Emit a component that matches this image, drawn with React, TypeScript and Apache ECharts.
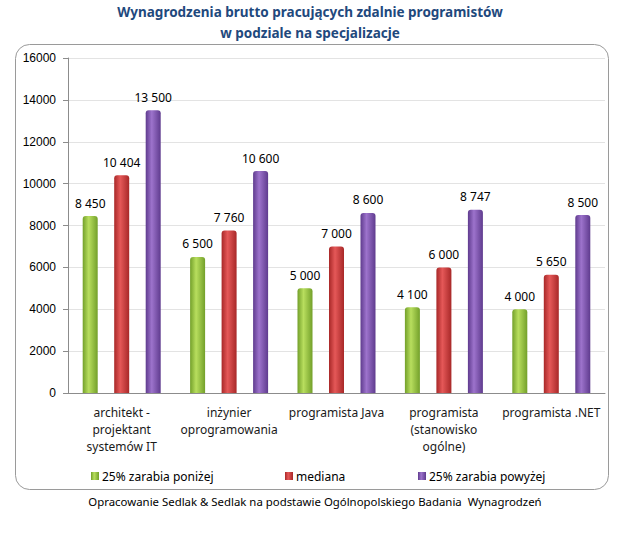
import React, { useEffect, useRef } from "react";
import * as echarts from "echarts";

const categories = [
  "architekt -\nprojektant\nsystemów IT",
  "inżynier\noprogramowania",
  "programista Java",
  "programista\n(stanowisko\nogólne)",
  "programista .NET",
];
const seriesNames = ["25% zarabia poniżej", "mediana", "25% zarabia powyżej"];
const lowQuartile = [8450, 6500, 5000, 4100, 4000];
const median = [10404, 7760, 7000, 6000, 5650];
const highQuartile = [13500, 10600, 8600, 8747, 8500];
const yTicks = { min: 0, max: 16000, interval: 2000 };
const titleText = "Wynagrodzenia brutto pracujących zdalnie programistów\nw podziale na specjalizacje";
const sourceText = "Opracowanie Sedlak & Sedlak na podstawie Ogólnopolskiego Badania  Wynagrodzeń";

const FONT = "Noto Sans";

const grad = (edge: string, mid: string) =>
  new echarts.graphic.LinearGradient(0, 0, 1, 0, [
    { offset: 0, color: edge },
    { offset: 0.4, color: mid },
    { offset: 1, color: edge },
  ]);

const fmt = (v: number) => String(v).replace(/\B(?=(\d{3})+(?!\d))/g, " ");

export default function App() {
  const ref = useRef<HTMLDivElement>(null);
  useEffect(() => {
    if (!ref.current) return;
    const chart = echarts.init(ref.current, null, { renderer: "svg" });
    const colors = [
      { edge: "#73a02a", mid: "#b8de5e", legend: "#92c23c" },
      { edge: "#a82828", mid: "#e55858", legend: "#cc3434" },
      { edge: "#5f3b8e", mid: "#9d73cc", legend: "#7d54ae" },
    ];
    const datas = [lowQuartile, median, highQuartile];
    const legendLefts = [86, 280, 413];
    chart.setOption({
      animation: false,
      title: {
        text: titleText,
        left: "center",
        top: -4,
        textStyle: {
          fontFamily: FONT,
          fontSize: 13.5,
          fontWeight: "bold",
          color: "#1f497d",
          lineHeight: 21,
        },
      },
      legend: seriesNames.map((n, i) => ({
        data: [n],
        left: legendLefts[i],
        top: 465,
        itemWidth: 8,
        itemHeight: 8,
        icon: "rect",
        itemGap: 4,
        textStyle: { fontFamily: FONT, fontSize: 12, color: "#000", padding: [0, 0, 0, -2] },
      })),
      grid: { left: 68, right: 15, top: 58, bottom: 145, containLabel: false },
      xAxis: {
        type: "category",
        data: categories,
        axisLine: { lineStyle: { color: "#8c8c8c" } },
        axisTick: { length: 5, lineStyle: { color: "#8c8c8c" } },
        axisLabel: {
          interval: 0,
          margin: 11,
          fontFamily: FONT,
          fontSize: 12,
          color: "#1a1a1a",
          lineHeight: 17,
        },
      },
      yAxis: {
        type: "value",
        min: yTicks.min,
        max: yTicks.max,
        interval: yTicks.interval,
        axisLine: { show: true, lineStyle: { color: "#8c8c8c" } },
        axisTick: { show: true, length: 5, lineStyle: { color: "#8c8c8c" } },
        splitLine: { lineStyle: { color: "#e3e3e3" } },
        axisLabel: {
          margin: 12,
          fontFamily: "Liberation Sans",
          fontSize: 12,
          color: "#000",
          formatter: (v: number) => String(v),
        },
      },
      series: seriesNames.map((n, i) => ({
        name: n,
        type: "bar",
        data: datas[i],
        barWidth: 15,
        barGap: "110%",
        itemStyle: { color: grad(colors[i].edge, colors[i].mid), borderRadius: [3, 3, 0, 0] },
        label: {
          show: true,
          position: "top",
          distance: 7,
          formatter: (p: any) => fmt(p.value),
          fontFamily: FONT,
          fontSize: 12,
          color: "#000",
        },
      })),
      color: colors.map((c) => c.legend),
      graphic: [
        {
          type: "rect",
          z: -1,
          shape: { x: 15.5, y: 44.5, width: 593, height: 445, r: 14 },
          style: { fill: "none", stroke: "#9a9a9a", lineWidth: 1 },
        },
        {
          type: "text",
          x: 315,
          y: 501,
          style: {
            text: sourceText,
            fontFamily: FONT,
            fontSize: 11.4,
            fill: "#000",
            textAlign: "center",
            textVerticalAlign: "middle",
          },
        },
      ],
    });
    return () => chart.dispose();
  }, []);
  return (
    <div
      ref={ref}
      style={{ position: "fixed", left: 0, top: 0, width: 620, height: 538, background: "#fff" }}
    />
  );
}
